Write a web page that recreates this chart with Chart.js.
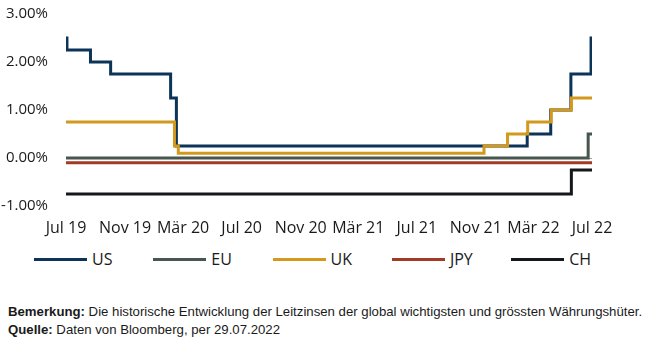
<!DOCTYPE html>
<html lang="de">
<head>
<meta charset="utf-8">
<title>Leitzinsen</title>
<script src="https://cdn.jsdelivr.net/npm/chart.js@4.4.0/dist/chart.umd.min.js"></script>
<style>
  html, body { margin: 0; padding: 0; background: #fff; }
  #wrap { position: relative; width: 671px; height: 359px; overflow: hidden; font-family: "Open Sans", sans-serif; color: #1a1a1a; }
  #chart { position: absolute; left: 0; top: 0; }
  #legend { position: absolute; left: 0; top: 248px; width: 671px; height: 22px; }
  .item { position: absolute; top: 0; height: 22px; display: flex; align-items: center; font-size: 16px; }
  .item .swatch { width: 53px; height: 3px; margin-right: 5px; }
  #notes { position: absolute; left: 8px; top: 303px; font-family: "Liberation Sans", Arial, sans-serif; font-size: 13.2px; line-height: 18px; color: #1a1a1a; white-space: nowrap; }
  #notes b { font-weight: bold; }
</style>
</head>
<body>
<div id="wrap">
  <canvas id="chart" width="671" height="240"></canvas>
  <div id="legend"></div>
  <div id="notes">
    <div><b>Bemerkung:</b> Die historische Entwicklung der Leitzinsen der global wichtigsten und grössten Währungshüter.</div>
    <div><b>Quelle:</b> Daten von Bloomberg, per 29.07.2022</div>
  </div>
</div>
<script>
// Central bank policy rates, step changes (date the new rate starts)
const START = "2019-07-29";
const END = "2022-07-29";

const TICK_DATES = ["2019-07-29", "2019-11-29", "2020-03-29", "2020-07-29", "2020-11-29",
  "2021-03-29", "2021-07-29", "2021-11-29", "2022-03-29", "2022-07-29"];
const TICK_LABELS = ["Jul 19", "Nov 19", "Mär 20", "Jul 20", "Nov 20",
  "Mär 21", "Jul 21", "Nov 21", "Mär 22", "Jul 22"];

const US_DATES = ["2019-07-29", "2019-07-31", "2019-09-18", "2019-10-30", "2020-03-03",
  "2020-03-15", "2022-03-16", "2022-05-04", "2022-06-15", "2022-07-27", END];
const US_RATES = [2.50, 2.25, 2.00, 1.75, 1.25, 0.25, 0.50, 1.00, 1.75, 2.50, 2.50];

const EU_DATES = ["2019-07-29", "2022-07-21", END];
const EU_RATES = [0.00, 0.50, 0.50];

const UK_DATES = ["2019-07-29", "2020-03-11", "2020-03-19", "2021-12-16", "2022-02-03",
  "2022-03-17", "2022-05-05", "2022-06-16", END];
const UK_RATES = [0.75, 0.25, 0.10, 0.25, 0.50, 0.75, 1.00, 1.25, 1.25];

const JPY_DATES = ["2019-07-29", END];
const JPY_RATES = [-0.10, -0.10];

const CH_DATES = ["2019-07-29", "2022-06-16", END];
const CH_RATES = [-0.75, -0.25, -0.25];

const SERIES = [
  { label: "US", dates: US_DATES, rates: US_RATES, color: "#0c3358", order: 1 },
  { label: "EU", dates: EU_DATES, rates: EU_RATES, color: "#47564e", order: 1 },
  { label: "UK", dates: UK_DATES, rates: UK_RATES, color: "#d2991c", order: 0 },
  { label: "JPY", dates: JPY_DATES, rates: JPY_RATES, color: "#a33a25", order: 1 },
  { label: "CH", dates: CH_DATES, rates: CH_RATES, color: "#14181b", order: 1 },
];

function day(d) {
  return (Date.parse(d) - Date.parse(START)) / 86400000;
}

function renderLegend() {
  const legend = document.getElementById("legend");
  legend.innerHTML = SERIES.map((s, i) =>
    `<div class="item" style="left:${34 + i * 119.3}px"><span class="swatch" style="background:${s.color}"></span>${s.label}</div>`
  ).join("");
}

function renderChart() {
  const tickDays = TICK_DATES.map(day);
  new Chart(document.getElementById("chart"), {
    type: "line",
    data: {
      datasets: SERIES.map((s) => ({
        label: s.label,
        data: s.dates.map((d, i) => ({ x: day(d), y: s.rates[i] })),
        borderColor: s.color,
        backgroundColor: s.color,
        borderWidth: 3,
        pointRadius: 0,
        stepped: true,
        fill: false,
        order: s.order,
      })),
    },
    options: {
      responsive: false,
      animation: false,
      devicePixelRatio: 1,
      layout: { padding: { top: 14, right: 79, bottom: 0, left: 0 } },
      plugins: { legend: { display: false }, tooltip: { enabled: false } },
      scales: {
        x: {
          type: "linear",
          min: day(START),
          max: day(END),
          grid: { display: false, drawTicks: false },
          border: { display: false },
          afterBuildTicks: (scale) => { scale.ticks = tickDays.map((v) => ({ value: v })); },
          afterFit: (scale) => {
            scale.height = 34;
            scale.paddingLeft = 0;
            scale.paddingRight = 0;
          },
          ticks: {
            padding: 13,
            maxRotation: 0,
            autoSkip: false,
            color: "#1a1a1a",
            font: { family: "Open Sans", size: 16 },
            callback: (v) => TICK_LABELS[tickDays.indexOf(v)],
          },
        },
        y: {
          min: -1,
          max: 3,
          grid: {
            drawTicks: false,
            color: (ctx) => (ctx.tick && ctx.tick.value === 0 ? "#a0a0a0" : "rgba(0,0,0,0)"),
            lineWidth: 1,
          },
          border: { display: false },
          afterFit: (scale) => {
            scale.width = 66;
            scale.paddingTop = 0;
            scale.paddingBottom = 0;
          },
          ticks: {
            stepSize: 1,
            padding: 18,
            color: "#1a1a1a",
            font: { family: "Open Sans", size: 15 },
            callback: (v) => v.toFixed(2) + "%",
          },
        },
      },
    },
  });
}

renderLegend();
renderChart();
</script>
</body>
</html>
